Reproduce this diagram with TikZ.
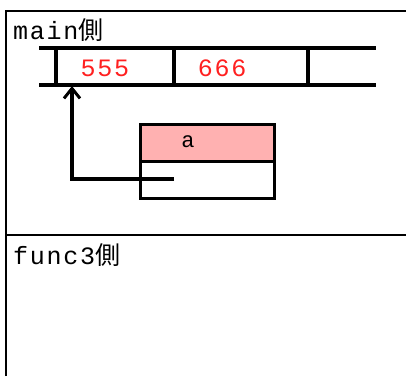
\documentclass[tikz,border=0pt]{standalone}
\usepackage{fontspec}
\setmainfont{Liberation Mono}
\newfontfamily\spacedmono[LetterSpace=7]{Liberation Mono}
\newfontfamily\cjk{Noto Sans CJK JP}
\usetikzlibrary{arrows.meta}
\definecolor{pinkfill}{HTML}{FFB1B1}
\definecolor{numred}{HTML}{FF2020}
\begin{document}
\begin{tikzpicture}[x=1pt,y=-1pt,
  frame/.style={line width=2.2pt},
  thickline/.style={line width=3.2pt},
  cell/.style={inner sep=0pt,minimum width=#1,minimum height=37pt,anchor=north west},
  numtxt/.style={text=numred,font=\spacedmono\fontsize{25}{25}\selectfont},
  labeltxt/.style={anchor=west,inner sep=0pt,font=\spacedmono\fontsize{25}{25}\selectfont},
  ptr/.style={thickline,-{Straight Barb[length=10pt,width=16pt,line width=3pt]}}]
\useasboundingbox (0,0) rectangle (406,376);
% outer frame
\draw[frame] (6,376) -- (6,11) -- (406,11);
\draw[frame] (6,235) -- (406,235);
\node[labeltxt] (mainlbl) at (13,30) {main{\cjk 側}};
\node[labeltxt] (funclbl) at (13,255) {func3{\cjk 側}};
% array
\node[cell=118pt] (c1) at (56,48) {};
\node[cell=134pt] (c2) at (174,48) {};
\node[cell=68pt] (c3) at (308,48) {};
\node[numtxt] (n1) at (105,68) {555};
\node[numtxt] (n2) at (222,68) {666};
\draw[thickline] (39,48) -- (376,48);
\draw[thickline] (39,85) -- (376,85);
\draw[thickline] (c1.north west) -- (c1.south west);
\draw[thickline] (c2.north west) -- (c2.south west);
\draw[thickline] (c3.north west) -- (c3.south west);
% pointer variable a
\node[draw,thickline,fill=pinkfill,minimum width=134pt,minimum height=37pt,inner sep=0pt,anchor=north west] (aname) at (139,123) {};
\node[font=\fontsize{22}{22}\selectfont] (atxt) at (188,142) {a};
\node[draw,thickline,minimum width=134pt,minimum height=37pt,inner sep=0pt,anchor=north west] (aval) at (139,160) {};
\coordinate (pstart) at (174,179);
\coordinate (ptip) at (72,86);
\draw[ptr] (pstart) -- (ptip |- pstart) -- (ptip);
\end{tikzpicture}
\end{document}
